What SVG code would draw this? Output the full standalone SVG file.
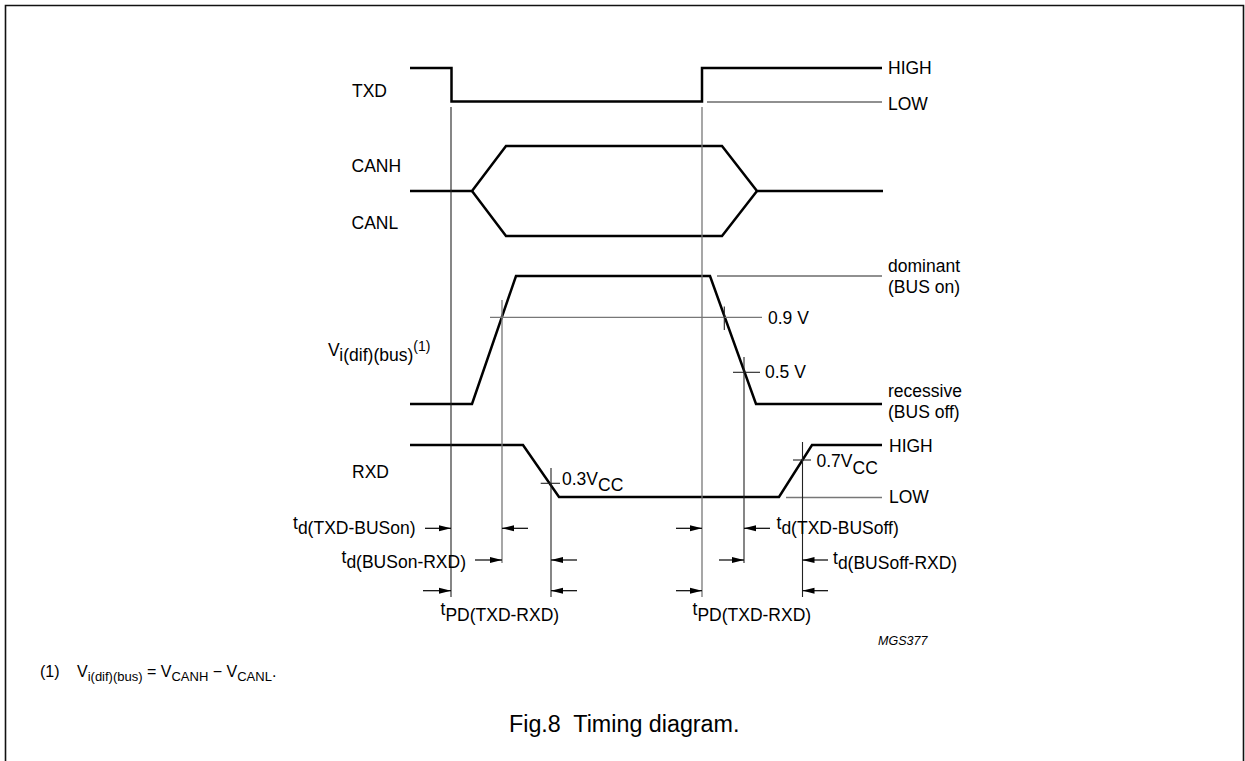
<svg xmlns="http://www.w3.org/2000/svg" width="1245" height="761" viewBox="0 0 1245 761">
  <style>
    text { font-family: "Liberation Sans", Arial, sans-serif; fill: #000; }
    .lbl { font-size: 17.5px; }
    .trace { fill: none; stroke: #000; stroke-width: 2.5; stroke-linejoin: miter; }
    .ref { fill: none; stroke: #222; stroke-width: 1.1; }
    .refg { fill: none; stroke: #777; stroke-width: 1.3; }
    .arr { fill: none; stroke: #000; stroke-width: 1.2; marker-end: url(#ah); }
  </style>
  <defs>
    <marker id="ah" markerUnits="userSpaceOnUse" markerWidth="12" markerHeight="8" viewBox="0 0 12 8" refX="12" refY="4" orient="auto">
      <path d="M0,1 L12,4 L0,7 Z" fill="#000"/>
    </marker>
  </defs>
  <rect width="1245" height="761" fill="#fff"/>
  <g id="frame">
    <path d="M5.5,761 V5.5 H1243.5 V761" fill="none" stroke="#111" stroke-width="1.6"/>
  </g>

  <g id="txd">
    <path class="trace" d="M410,68 H451.5 V101.5 H702 V68 H882"/>
    <text class="lbl" x="352" y="97">TXD</text>
  </g>
  <g id="can">
    <path class="trace" d="M410,191 H472 L506,146 H722 L757,191 H883"/>
    <path class="trace" d="M472,191 L506,236 H722 L757,191"/>
    <text class="lbl" x="351.5" y="171.5">CANH</text>
    <text class="lbl" x="351.5" y="229">CANL</text>
  </g>
  <g id="vdiff">
    <path class="trace" d="M410,404 H472 L516,276 H710 L756,404 H882"/>
    <text class="lbl" x="328" y="356">V<tspan dy="5">i(dif)(bus)</tspan><tspan dy="-10" font-size="14">(1)</tspan></text>
  </g>
  <g id="rxd">
    <path class="trace" d="M410,445 H523 L559,497 H779 L812,445 H882"/>
    <text class="lbl" x="352" y="478">RXD</text>
  </g>

  <g id="connectors">
    <path class="ref" d="M707,102 H882"/>
    <path class="ref" d="M717,276 H882"/>
    <path class="refg" d="M490,317.3 H762"/>
    <path class="ref" d="M724.3,306.5 V330"/>
    <path class="ref" d="M733,372.3 H760"/>
    <path class="ref" d="M540.7,483.3 H560"/>
    <path class="ref" d="M793,460 H811"/>
    <path class="refg" d="M786,497.5 H882"/>
    <path class="ref" d="M451,107 V597"/>
    <path class="refg" d="M702,107 V597"/>
    <path class="refg" d="M502,300 V563"/>
    <path class="ref" d="M744,357 V563"/>
    <path class="ref" d="M551,468 V597"/>
    <path class="ref" d="M802.5,442 V597"/>
    <path class="arr" d="M425,528.3 H451"/>
    <path class="arr" d="M528,528.3 H502"/>
    <path class="arr" d="M676,528.3 H702"/>
    <path class="arr" d="M770,528.3 H744"/>
    <path class="arr" d="M475,560 H502"/>
    <path class="arr" d="M577,560 H551"/>
    <path class="arr" d="M719,560 H744"/>
    <path class="arr" d="M828,560 H802.5"/>
    <path class="arr" d="M423,590.7 H451"/>
    <path class="arr" d="M577,590.7 H551"/>
    <path class="arr" d="M676,590.7 H702"/>
    <path class="arr" d="M828,590.7 H802.5"/>
  </g>

  <g id="level-labels">
    <text class="lbl" x="888" y="73.5">HIGH</text>
    <text class="lbl" x="888" y="110">LOW</text>
    <text class="lbl" x="888" y="272">dominant</text>
    <text class="lbl" x="888" y="292.5">(BUS on)</text>
    <text class="lbl" x="768" y="324">0.9 V</text>
    <text class="lbl" x="765" y="378">0.5 V</text>
    <text class="lbl" x="888" y="397">recessive</text>
    <text class="lbl" x="888" y="418">(BUS off)</text>
    <text class="lbl" x="889" y="451.5">HIGH</text>
    <text class="lbl" x="889" y="503">LOW</text>
    <text class="lbl" x="562" y="485">0.3V<tspan dy="6">CC</tspan></text>
    <text class="lbl" x="816.5" y="466.5">0.7V<tspan dy="7.5">CC</tspan></text>
  </g>

  <g id="timing-labels">
    <text class="lbl" x="293" y="529">t<tspan dy="5">d(TXD-BUSon)</tspan></text>
    <text class="lbl" x="341.5" y="563">t<tspan dy="5">d(BUSon-RXD)</tspan></text>
    <text class="lbl" x="776.5" y="529">t<tspan dy="5">d(TXD-BUSoff)</tspan></text>
    <text class="lbl" x="833" y="564">t<tspan dy="5">d(BUSoff-RXD)</tspan></text>
    <text class="lbl" x="440.5" y="615">t<tspan dy="6">PD(TXD-RXD)</tspan></text>
    <text class="lbl" x="692.5" y="615">t<tspan dy="6">PD(TXD-RXD)</tspan></text>
    <text x="878" y="645" font-size="12.5" font-style="italic">MGS377</text>
  </g>

  <g id="footnote">
    <text x="40" y="677" font-size="16">(1)<tspan x="77">V</tspan><tspan dy="3.5" font-size="13">i(dif)(bus)</tspan><tspan dy="-3.5"> = V</tspan><tspan dy="3.5" font-size="13">CANH</tspan><tspan dy="-3.5"> − V</tspan><tspan dy="3.5" font-size="13">CANL</tspan><tspan dy="-3.5">.</tspan></text>
  </g>

  <g id="caption">
    <text x="509" y="731.5" font-size="23.3">Fig.8<tspan dx="12.5">Timing diagram.</tspan></text>
  </g>
</svg>
